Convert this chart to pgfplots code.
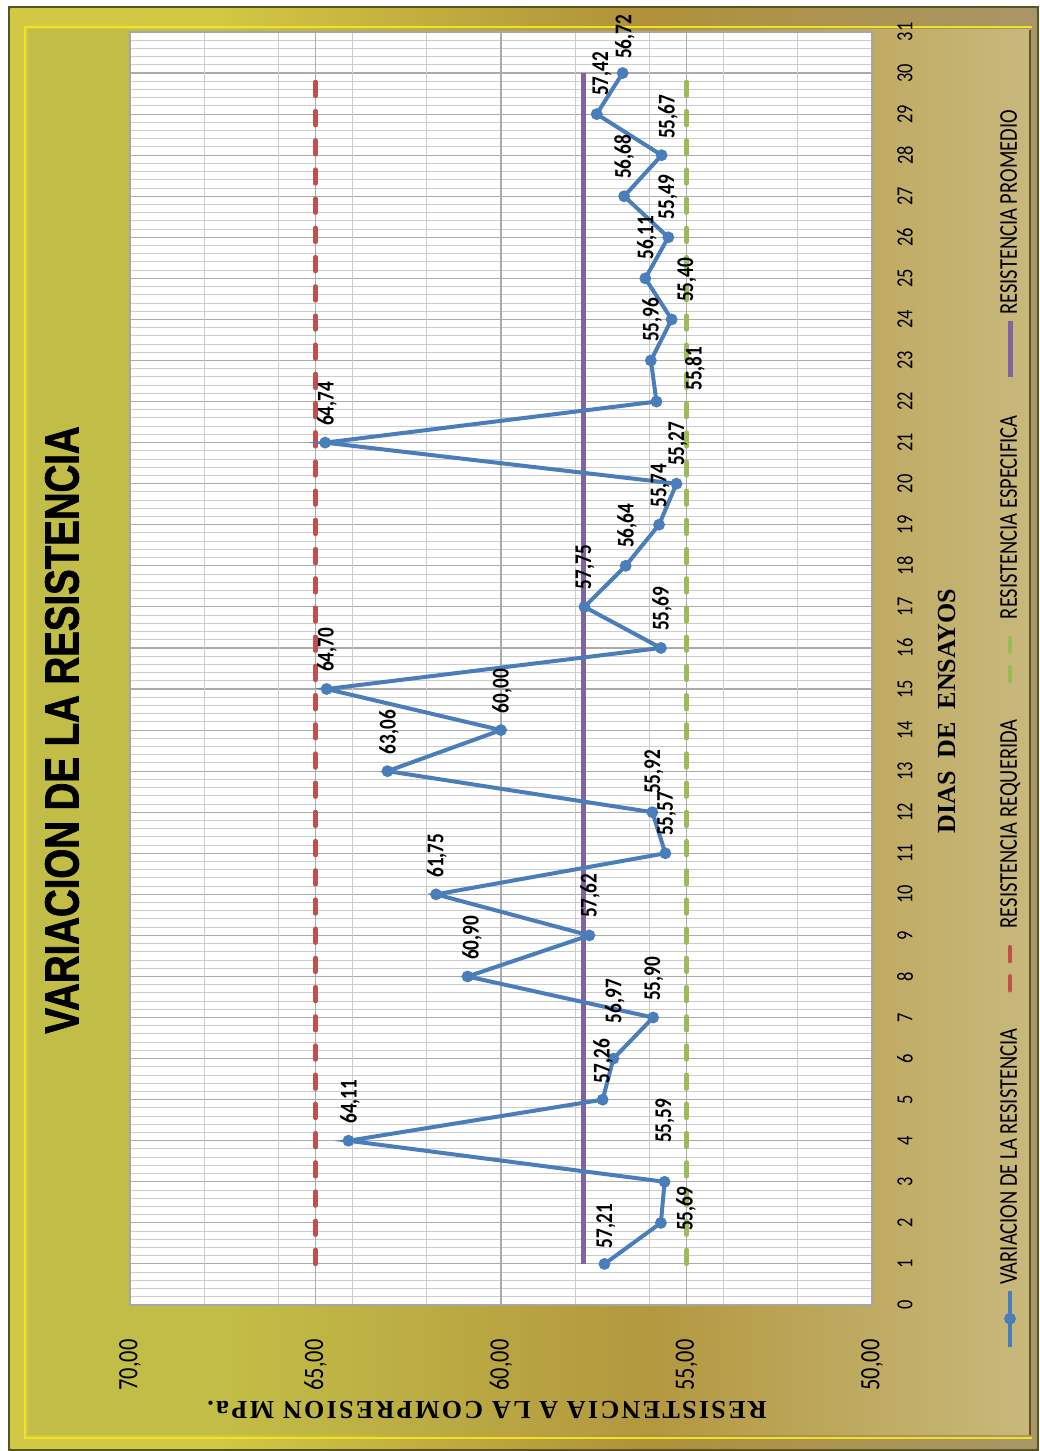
\documentclass[border=0pt]{standalone}
\usepackage{graphicx}
\usepackage{fontspec}
\usepackage{pgfplots}
\pgfplotsset{compat=1.18}
\usepackage{pgfplotstable}

\newfontfamily\calib[FakeStretch=0.8]{Carlito}
\newfontfamily\titlef[FakeStretch=0.8,FakeBold=1.5]{Liberation Sans}
\newfontfamily\serifb{Liberation Serif}
\newfontfamily\serifsp[LetterSpace=9]{Liberation Serif}

\definecolor{serblue}{HTML}{4A7EBB}
\definecolor{serred}{HTML}{C0504D}
\definecolor{sergreen}{HTML}{9BBB59}
\definecolor{serpurple}{HTML}{8064A2}
\definecolor{olivec}{HTML}{C2BD46}
\definecolor{goldc}{HTML}{B3983F}
\definecolor{tanc}{HTML}{C8B87C}
\definecolor{frameol}{HTML}{D2C843}
\definecolor{framegd}{HTML}{B0913A}
\definecolor{frametn}{HTML}{A89668}

% shading: bottom = 25bp, top = 75bp
\pgfdeclareverticalshading{panel}{100bp}{color(0bp)=(tanc); color(25bp)=(tanc);
  color(44bp)=(goldc); color(65bp)=(olivec); color(100bp)=(olivec)}
\pgfdeclareverticalshading{frame}{100bp}{color(0bp)=(frametn); color(25bp)=(frametn);
  color(44bp)=(framegd); color(65bp)=(frameol); color(100bp)=(frameol)}

% dia, resistencia
\pgfplotstableread{
dia val
1 57.21
2 55.69
3 55.59
4 64.11
5 57.26
6 56.97
7 55.90
8 60.90
9 57.62
10 61.75
11 55.57
12 55.92
13 63.06
14 60.00
15 64.70
16 55.69
17 57.75
18 56.64
19 55.74
20 55.27
21 64.74
22 55.81
23 55.96
24 55.40
25 56.11
26 55.49
27 56.68
28 55.67
29 57.42
30 56.72
}\datos

% where the value labels sit
\pgfplotstableread{
x y lab
1.92 57.17 57,21
2.34 55.01 55,69
4.48 55.58 55,59
4.95 64.07 64,11
5.94 57.25 57,26
7.40 56.93 56,97
7.94 55.88 55,90
8.94 60.78 60,90
9.96 57.60 57,62
10.94 61.73 61,75
11.96 55.53 55,57
12.98 55.88 55,92
13.95 63.02 63,06
14.95 59.97 60,00
15.95 64.69 64,70
16.95 55.66 55,69
17.97 57.74 57,75
18.97 56.60 56,64
19.95 55.71 55,74
20.97 55.23 55,27
21.94 64.69 64,74
22.80 54.77 55,81
23.99 55.93 55,96
24.96 54.99 55,40
25.99 56.07 56,11
26.98 55.50 55,49
27.96 56.68 56,68
28.93 55.50 55,67
29.98 57.28 57,42
30.88 56.66 56,72
}\etiquetas

\pgfplotsset{
  sVar/.style={serblue, line width=2pt, mark=*, mark size=1.9pt, mark options={solid}},
  sReq/.style={serred, line width=2.2pt, dash pattern=on 7pt off 7.6pt, line cap=round},
  sEsp/.style={sergreen, line width=2.2pt, dash pattern=on 7pt off 7.6pt, line cap=round},
  sProm/.style={serpurple, line width=2.5pt},
}

\begin{document}
\rotatebox{90}{%
\begin{tikzpicture}
\path[use as bounding box, fill=white] (0,0) rectangle (725.5pt,519.5pt);
% marco
\fill[black!55!olivec] (0,0) rectangle (722.5pt,515.5pt);
\shade[shading=frame] (1.2pt,1.2pt) rectangle (721.3pt,514.3pt);
\draw[yellow!70!olivec, line width=1.2pt] (6.5pt,3.5pt) -- (6.5pt,507pt) -- (712pt,507pt) -- (712pt,3.5pt);
\shade[shading=panel] (8pt,4.5pt) rectangle (710.5pt,505.5pt);
\draw[black!45!goldc, line width=1.2pt] (8pt,4.5pt) -- (710.5pt,4.5pt);

\begin{axis}[
  at={(73pt,83.5pt)}, anchor=south west,
  scale only axis, width=636.5pt, height=371pt,
  xmin=0, xmax=31, ymin=50, ymax=70,
  xtick={0,...,31}, ytick={50,55,...,70},
  minor x tick num=4,
  minor ytick={52,54,56,58,62,64,66,68},
  grid=both,
  major grid style={draw=black!33, line width=0.55pt},
  minor grid style={draw=black!20, line width=0.5pt},
  axis background/.style={fill=white},
  axis line style={draw=black!35, line width=0.6pt},
  major tick length=0pt, minor tick length=0pt,
  clip=false,
  /pgf/number format/.cd, fixed, fixed zerofill, precision=2, use comma, assume math mode=true,
  /pgfplots/.cd,
  xticklabel style={font=\calib\fontsize{11.5}{13}\selectfont, anchor=center, yshift=-16.5pt,
    /pgf/number format/precision=0},
  yticklabel style={font=\calib\fontsize{14}{16}\selectfont, anchor=center, xshift=-30pt},
  xlabel={DIAS\ \ DE\ \ ENSAYOS},
  every axis x label/.style={at={(axis description cs:0.4666,-0.101)}, anchor=center,
    font=\serifb\bfseries\fontsize{13}{15}\selectfont},
  ylabel={RESISTENCIA A LA COMPRESION MPa.},
  every axis y label/.style={at={(axis description cs:-0.0825,0.519)}, rotate=90, anchor=center,
    font=\serifsp\bfseries\fontsize{13}{15}\selectfont},
  title={VARIACION DE LA RESISTENCIA},
  every axis title/.style={at={(axis description cs:0.4517,1.0916)}, anchor=center,
    font=\titlef\bfseries\fontsize{24}{28}\selectfont},
  legend style={at={(axis description cs:0.4537,-0.186)}, anchor=center, draw=none, fill=none,
    legend columns=4, font=\calib\fontsize{12.8}{14}\selectfont,
    /tikz/every even column/.append style={column sep=16pt}},
  legend image code/.code={\draw[mark repeat=2,mark phase=2] plot coordinates {(0pt,0pt) (14pt,0pt) (28pt,0pt)};},
]
\addlegendimage{sVar}
\addlegendentry{VARIACION DE LA RESISTENCIA}
\addlegendimage{sReq}
\addlegendentry{RESISTENCIA REQUERIDA}
\addlegendimage{sEsp}
\addlegendentry{RESISTENCIA ESPECIFICA}
\addlegendimage{sProm}
\addlegendentry{RESISTENCIA PROMEDIO}

\addplot[sReq, forget plot] coordinates {(1,65) (30,65)};
\addplot[sEsp, forget plot] coordinates {(1,55) (30,55)};
\addplot[sProm, forget plot] coordinates {(1,57.78) (30,57.78)};
\addplot[sVar, forget plot] table[x=dia, y=val] {\datos};

\addplot[draw=none, mark=none, forget plot, nodes near coords, point meta=explicit symbolic,
  every node near coord/.style={anchor=center, font=\calib\bfseries\fontsize{12}{14}\selectfont, text=black, inner sep=0pt}]
  table[x=x, y=y, meta=lab] {\etiquetas};
\end{axis}
\end{tikzpicture}}
\end{document}
